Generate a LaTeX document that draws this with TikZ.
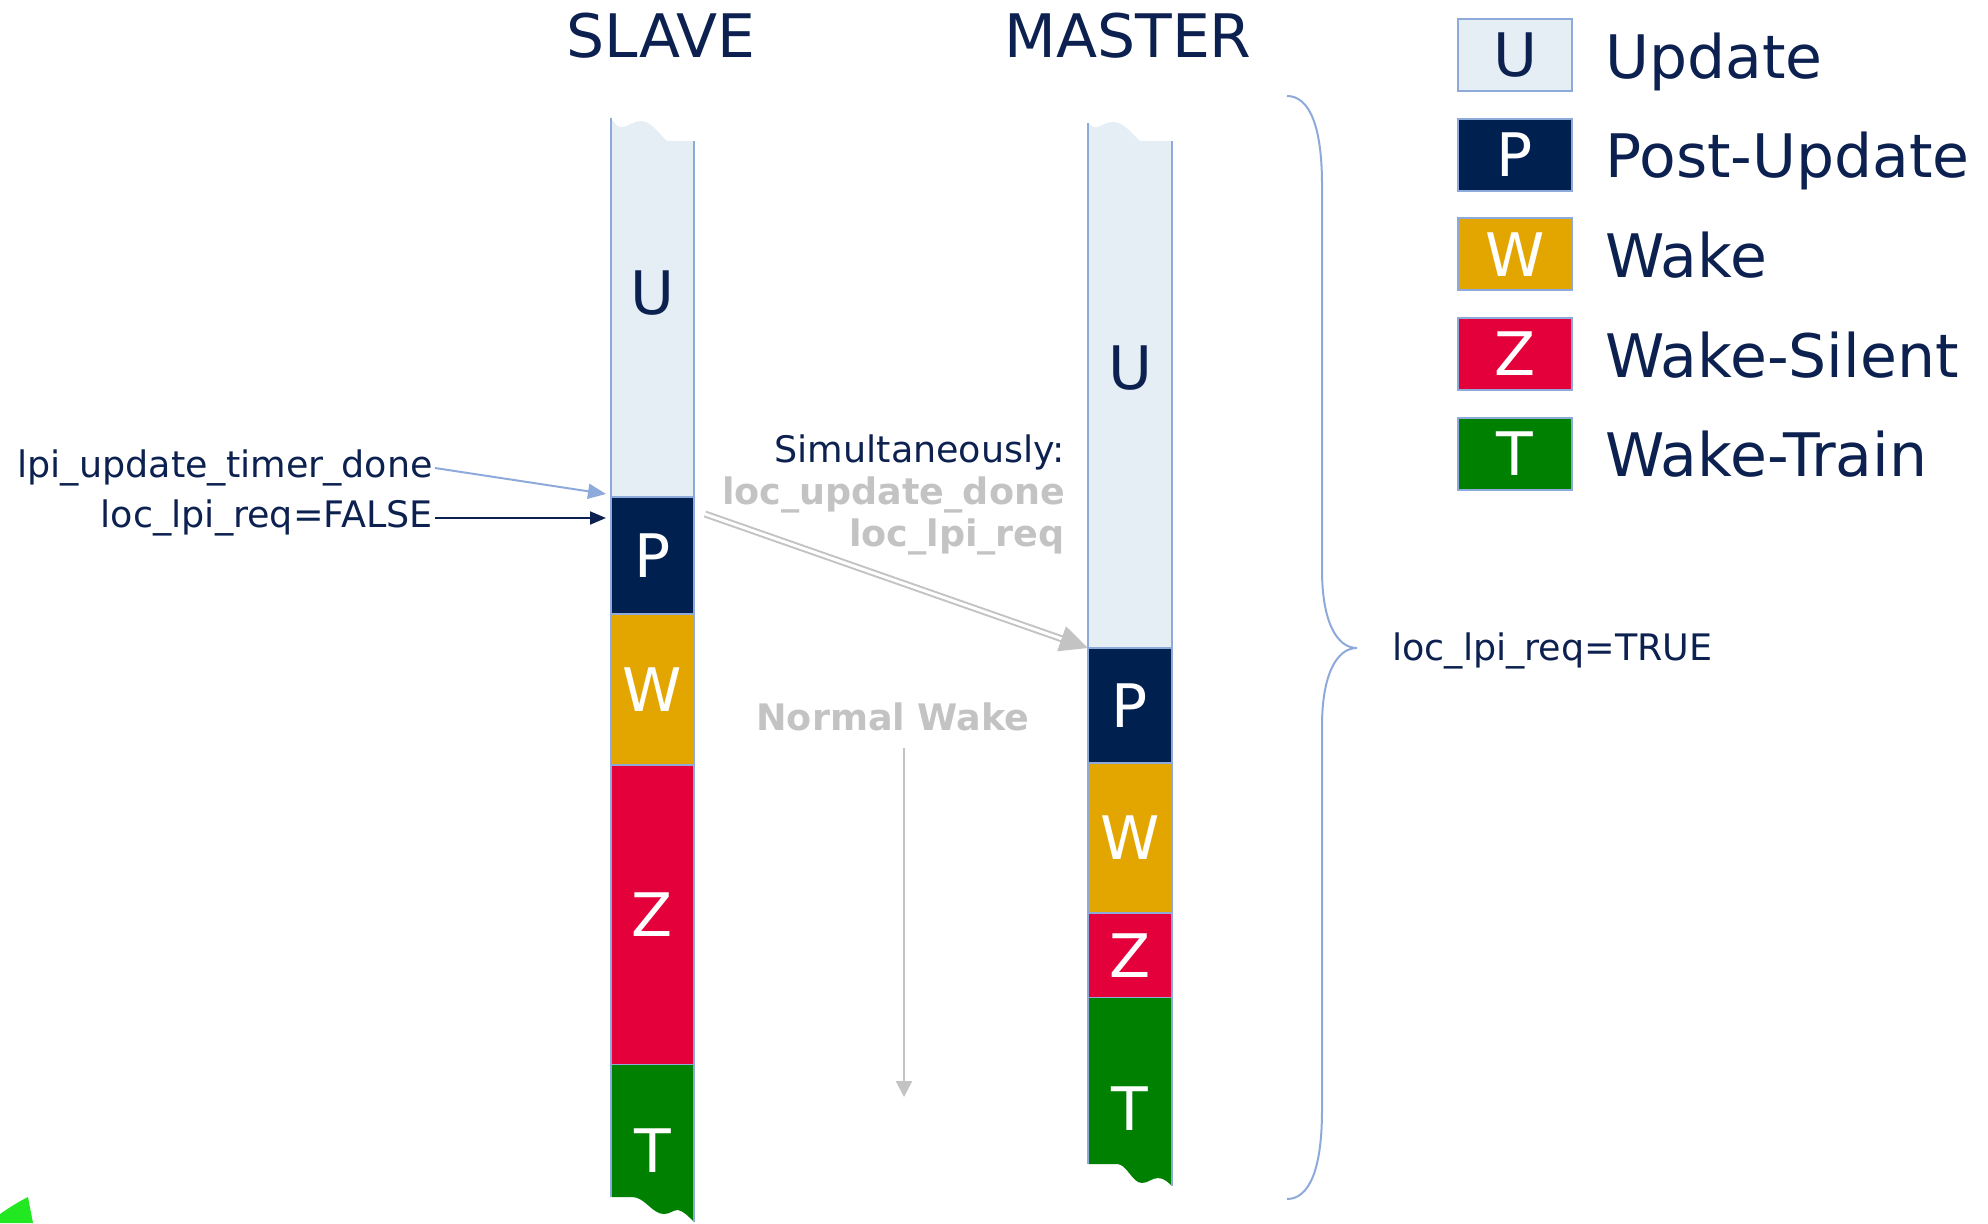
\documentclass[tikz,border=0pt]{standalone}
\usepackage{fontspec}
\setmainfont{DejaVu Sans}
\usetikzlibrary{arrows.meta}
\definecolor{navy}{HTML}{002050}
\definecolor{txt}{HTML}{0C2150}
\definecolor{ufill}{HTML}{E5EDF5}
\definecolor{edge}{HTML}{8EAADB}
\definecolor{wfill}{HTML}{E3A600}
\definecolor{zfill}{HTML}{E4003A}
\definecolor{tfill}{HTML}{008000}
\definecolor{lgray}{HTML}{C3C3C3}
\definecolor{blob}{HTML}{22E822}
\newcommand\colfont{\fontsize{60}{72}\selectfont}
\newcommand\smallfont{\fontsize{36.5}{44}\selectfont}
\tikzset{
  seg/.style={rectangle, draw=edge, line width=2pt, inner sep=0pt, outer sep=0pt,
    anchor=north west, text=white, font=\colfont},
  edgeline/.style={draw=edge, line width=2pt},
  collab/.style={font=\colfont, inner sep=0pt},
  title/.style={font=\colfont, text=txt, inner sep=0pt},
  lbox/.style={rectangle, draw=edge, line width=2pt, minimum width=114pt, minimum height=72pt,
    inner sep=0pt, font=\colfont},
  ltext/.style={font=\colfont, text=txt, inner sep=0pt, anchor=west, text height=44pt, text depth=12pt},
  small/.style={font=\smallfont, text=txt, inner sep=0pt, text height=27pt, text depth=8pt},
  smallbold/.style={font=\smallfont\bfseries, text=lgray, inner sep=0pt, text height=27pt, text depth=8pt},
}
\begin{document}
\begin{tikzpicture}[x=1pt,y=-1pt]
\useasboundingbox (0,0) rectangle (1988,1223);

% ---------- titles
\node[title] (tSlave) at (661,36) {SLAVE};
\node[title] (tMaster) at (1128,36) {MASTER};

% ---------- slave column
\fill[ufill] (611,118) .. controls (615,124) and (618,128) .. (623,127)
  .. controls (629,126) and (634,121) .. (641,121)
  .. controls (651,121) and (659,134) .. (667,141) -- (694,141) -- (694,497) -- (611,497) -- cycle;
\node[seg, draw=none, minimum width=83pt, minimum height=356pt] (sU) at (611,141) {};
\draw[edgeline] (611,118) -- (sU.south west);
\draw[edgeline] (sU.north east) -- (sU.south east);
\node[collab, text=txt] (sUl) at (652.5,293) {U};
\node[seg, fill=navy, minimum width=83pt, minimum height=117pt] (sP) at (sU.south west) {P};
\node[seg, fill=wfill, minimum width=83pt, minimum height=151pt] (sW) at (sP.south west) {W};
\node[seg, fill=zfill, minimum width=83pt, minimum height=300pt] (sZ) at (sW.south west) {Z};
\node[seg, draw=none, fill=tfill, minimum width=83pt, minimum height=132pt] (sT) at (sZ.south west) {};
\fill[tfill] (sT.south west) -- (632,1197) .. controls (645,1197) and (652,1214) .. (664,1214)
  .. controls (670,1214) and (673,1210) .. (678,1210)
  .. controls (684,1211) and (690,1218) .. (694,1222) -- (sT.south east) -- cycle;
\draw[edgeline] (sT.north west) -- (sT.south west);
\draw[edgeline] (sT.north east) -- (694,1222);
\node[collab, text=white] (sTl) at (652.5,1151) {T};

% ---------- master column
\fill[ufill] (1088,123) .. controls (1091,126) and (1094,128) .. (1098,127)
  .. controls (1103,125) and (1107,122) .. (1113,122)
  .. controls (1124,122) and (1132,134) .. (1140,141) -- (1172,141) -- (1172,648) -- (1088,648) -- cycle;
\node[seg, draw=none, minimum width=84pt, minimum height=507pt] (mU) at (1088,141) {};
\draw[edgeline] (1088,123) -- (mU.south west);
\draw[edgeline] (mU.north east) -- (mU.south east);
\node[collab, text=txt] (mUl) at (1130,368) {U};
\node[seg, fill=navy, minimum width=84pt, minimum height=115pt] (mP) at (mU.south west) {P};
\node[seg, fill=wfill, minimum width=84pt, minimum height=150pt] (mW) at (mP.south west) {W};
\node[seg, fill=zfill, minimum width=84pt, minimum height=85pt] (mZ) at (mW.south west) {Z};
\node[seg, draw=none, fill=tfill, minimum width=84pt, minimum height=166pt] (mT) at (mZ.south west) {};
\fill[tfill] (mT.south west) -- (1117,1164) .. controls (1127,1164) and (1132,1183) .. (1142,1183)
  .. controls (1148,1183) and (1152,1178) .. (1158,1178)
  .. controls (1164,1178) and (1169,1183) .. (1172,1186) -- (mT.south east) -- cycle;
\draw[edgeline] (mT.north west) -- (mT.south west);
\draw[edgeline] (mT.north east) -- (1172,1186);
\node[collab, text=white] (mTl) at (1130,1109) {T};

% ---------- left labels and arrows
\node[small, anchor=east] (lTimer) at (433,468) {lpi\_update\_timer\_done};
\node[small, anchor=east] (lFalse) at (433,518) {loc\_lpi\_req=FALSE};
\draw[edge, line width=2pt, -{Triangle[length=18pt,width=15pt]}]
  ([xshift=2pt]lTimer.east) -- ([xshift=-5pt,yshift=3pt]sU.south west);
\draw[txt, line width=2pt, -{Triangle[length=16pt,width=13pt]}]
  ([xshift=2pt]lFalse.east) -- ([xshift=-5pt,yshift=-21pt]sP.north west);

% ---------- simultaneously
\node[small, anchor=east] (sim) at (1065,453) {Simultaneously:};
\node[smallbold, anchor=east] (simA) at (1065,495) {loc\_update\_done};
\node[smallbold, anchor=east] (simB) at (1065,537) {loc\_lpi\_req};
\draw[lgray, line width=2pt, double=white, double distance=3pt,
  -{Triangle[length=28pt,width=26pt]}]
  ([xshift=11pt,yshift=-17pt]sP.north east) -- (mP.north west);

% ---------- normal wake
\node[smallbold] (nw) at (893,721) {Normal Wake};
\coordinate (nwStart) at (904,748);
\coordinate (nwEnd) at (904,1097);
\draw[lgray, line width=2.2pt, -{Triangle[length=16pt,width=16pt]}] (nwStart) -- (nwEnd);

% ---------- brace
\coordinate (braceTip) at (1357,648);
\draw[edgeline] (1287,96) .. controls (1309,96) and (1322,125) .. (1322,185) -- (1322,570)
  .. controls (1322,620) and (1336,648) .. (braceTip)
  .. controls (1336,648) and (1322,676) .. (1322,726) -- (1322,1110)
  .. controls (1322,1170) and (1309,1199) .. (1287,1199);
\node[small, anchor=west] (lTrue) at (1392,651) {loc\_lpi\_req=TRUE};

% ---------- legend
\foreach \i/\l/\f/\tc/\name in {0/U/ufill/txt/Update, 1/P/navy/white/Post-Update,
   2/W/wfill/white/Wake, 3/Z/zfill/white/Wake-Silent, 4/T/tfill/white/Wake-Train} {
  \node[lbox, fill=\f, text=\tc] (key\l) at (1515,{55+99.7*\i}) {\l};
  \node[ltext] (keyText\l) at (1605,{62+99.7*\i}) {\name};
}

% ---------- small green mark
\fill[blob] (0,1214) .. controls (10,1207) and (20,1201) .. (28,1197) -- (33,1223) -- (0,1223) -- cycle;
\end{tikzpicture}
\end{document}
